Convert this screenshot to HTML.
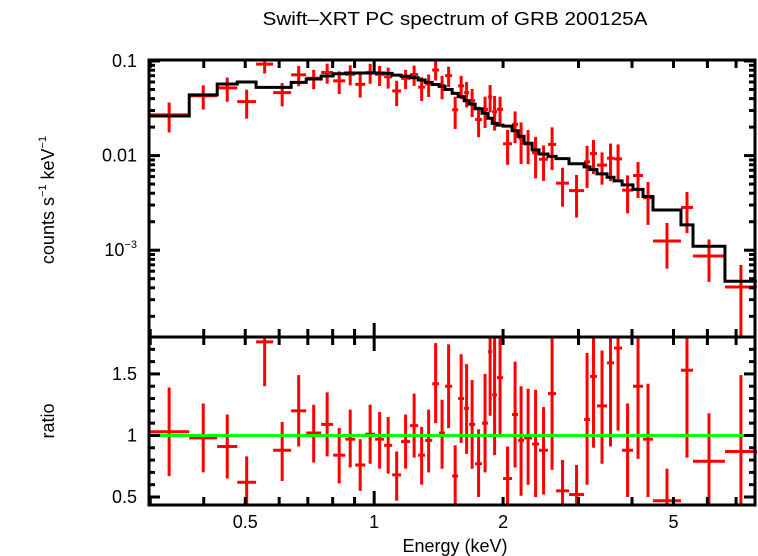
<!DOCTYPE html>
<html><head><meta charset="utf-8"><style>
body{margin:0;background:#fff;width:758px;height:556px;overflow:hidden}
svg{display:block;font-family:"Liberation Sans",sans-serif}
</style></head><body>
<svg id="chart" width="758" height="556" xmlns="http://www.w3.org/2000/svg">
<text x="455" y="25" font-size="18" text-anchor="middle" textLength="385" lengthAdjust="spacingAndGlyphs">Swift–XRT PC spectrum of GRB 200125A</text>
<text transform="translate(54,200) rotate(-90)" font-size="18" text-anchor="middle">counts s<tspan font-size="11" dy="-8">−1</tspan><tspan dy="8"> keV</tspan><tspan font-size="11" dy="-8">−1</tspan></text>
<text transform="translate(54,421) rotate(-90)" font-size="18" text-anchor="middle">ratio</text>
<text x="455" y="552" font-size="18" text-anchor="middle">Energy (keV)</text>
<g id="g"></g>
</svg>
<script>
const edges=[0.298,0.370,0.430,0.479,0.530,0.581,0.640,0.694,0.752,0.802,0.856,0.903,0.953,1.005,1.055,1.102,1.156,1.213,1.267,1.315,1.366,1.418,1.464,1.521,1.571,1.622,1.666,1.721,1.786,1.845,1.886,1.936,2.0,2.099,2.168,2.239,2.338,2.427,2.547,2.66,2.851,3.092,3.192,3.314,3.498,3.631,3.793,4.022,4.245,4.478,5.205,5.553,6.594,7.83];
const model=[0.0262,0.0438,0.0571,0.060,0.0527,0.0527,0.0595,0.0645,0.0694,0.0734,0.0746,0.0746,0.0746,0.0746,0.074,0.071,0.069,0.0666,0.063,0.0595,0.0565,0.054,0.050,0.0455,0.042,0.038,0.035,0.0313,0.028,0.0248,0.0219,0.021,0.0205,0.0183,0.016,0.0135,0.0115,0.0104,0.0098,0.0093,0.0082,0.0076,0.0071,0.0064,0.0059,0.0054,0.0049,0.0044,0.0037,0.00266,0.00185,0.0011,0.00047];
const ratio=[1.03,0.98,0.91,0.62,1.76,0.88,1.20,1.02,1.09,0.84,0.97,0.76,1.01,0.97,0.92,0.68,0.95,1.08,0.84,0.96,1.42,1.02,1.40,0.67,1.30,1.22,1.09,0.77,1.10,1.68,1.33,1.47,0.65,1.17,0.96,0.98,0.93,0.88,1.34,0.55,0.52,1.13,1.48,1.24,1.59,1.71,0.88,1.40,0.97,0.47,1.53,0.79,0.87];
const ratioHi=[1.39,1.26,1.17,0.83,2.2,1.11,1.49,1.25,1.35,1.06,1.21,0.97,1.25,1.19,1.15,0.87,1.17,1.34,1.07,1.21,1.75,1.29,1.74,0.92,1.66,1.58,1.45,1.05,1.50,2.25,1.95,2.0,0.91,1.60,1.40,1.38,1.37,1.23,2.03,0.80,0.76,1.67,2.06,1.69,2.27,2.43,1.26,1.94,1.42,0.73,2.23,1.18,1.49];
const ratioLo=[0.67,0.70,0.65,0.41,1.40,0.63,0.91,0.78,0.83,0.61,0.74,0.55,0.77,0.73,0.69,0.47,0.73,0.82,0.60,0.70,1.10,0.73,1.06,0.42,0.94,0.85,0.73,0.50,0.70,1.16,0.84,1.0,0.39,0.74,0.51,0.60,0.50,0.52,0.72,0.31,0.27,0.60,0.90,0.77,0.91,1.04,0.50,0.81,0.50,0.24,0.82,0.42,0.1];
const xTicks=[0.5,1,2,5];
const xTickLabels=["0.5","1","2","5"];
const ratioTicks=[0.5,1,1.5];
const ratioTickLabels=["0.5","1","1.5"];

const NS="http://www.w3.org/2000/svg";
const G=document.getElementById('g');
const L=149,R=755,T=60,M=337,B=505;
const lx0=Math.log10(0.298),lx1=Math.log10(7.75);
const X=e=>L+(Math.log10(e)-lx0)/(lx1-lx0)*(R-L);
const Yt=v=>{let y=61+(-1-Math.log10(v))*94.6;return Math.max(T,Math.min(M,y));};
const rMin=0.435,rMax=1.8;
const Yr=v=>{let y=B-(v-rMin)/(rMax-rMin)*(B-M);return Math.max(M,Math.min(B,y));};
function ln(x1,y1,x2,y2,c,w){const e=document.createElementNS(NS,'line');e.setAttribute('x1',x1);e.setAttribute('y1',y1);e.setAttribute('x2',x2);e.setAttribute('y2',y2);e.setAttribute('stroke',c);e.setAttribute('stroke-width',w);G.appendChild(e);return e;}
function tx(x,y,s,anchor){const e=document.createElementNS(NS,'text');e.setAttribute('x',x);e.setAttribute('y',y);e.setAttribute('font-size','18');e.setAttribute('text-anchor',anchor);e.textContent=s;G.appendChild(e);return e;}

for(let i=0;i<ratio.length;i++){
  const x0=X(edges[i]),x1=X(edges[i+1]),xc=X(Math.sqrt(edges[i]*edges[i+1]));
  const f=ratio[i]*model[i];
  let h=ln(x0,Yt(f),x1,Yt(f),'#ff0000',3);
  
  
  let v=ln(xc,Yt(ratioHi[i]*model[i]),xc,Yt(ratioLo[i]*model[i]),'#ff0000',3);
  
  
  let h2=ln(x0,Yr(ratio[i]),x1,Yr(ratio[i]),'#ff0000',3);
  
  
  let v2=ln(xc,Yr(ratioHi[i]),xc,Yr(ratioLo[i]),'#ff0000',3);
  
  
}
let d='';
for(let i=0;i<model.length;i++){
  const x0=X(edges[i]),x1=X(edges[i+1]),y=Yt(model[i]);
  d+=(i===0?'M':'L')+x0+','+y+'L'+x1+','+y;
}
const mp=document.createElementNS(NS,'path');
mp.setAttribute('d',d);mp.setAttribute('fill','none');mp.setAttribute('stroke','#000');mp.setAttribute('stroke-width','3');


G.appendChild(mp);
const gl=ln(L,Yr(1),R,Yr(1),'#00ff00',3);



[[T,M],[M,B]].forEach(([a,b],k)=>{
  const r=document.createElementNS(NS,'rect');
  r.setAttribute('x',L);r.setAttribute('y',a);r.setAttribute('width',R-L);r.setAttribute('height',b-a);
  r.setAttribute('fill','none');r.setAttribute('stroke','#000');r.setAttribute('stroke-width','3');
  
  
  G.appendChild(r);
});
for(let e=0.3;e<=7.01;e+=(e<0.95?0.1:1)){
  const ee=Math.round(e*10)/10, x=X(ee), len=(ee===1)?14:8;
  [T,M].forEach(y=>ln(x,y,x,y+len,'#000',3));
  [M,B].forEach(y=>ln(x,y,x,y-len,'#000',3));
}
xTicks.forEach((e,i)=>{
  const t=tx(X(e),528,xTickLabels[i],'middle');
  
  
});
for(let dec=-4;dec<=-1;dec++){
  for(let m=1;m<=9;m++){
    const v=m*Math.pow(10,dec);
    const y=61+(-1-Math.log10(v))*94.6;
    if(y<T-1||y>M)continue;
    const len=m===1?11:6;
    ln(L,y,L+len,y,'#000',3);ln(R,y,R-len,y,'#000',3);
  }
}
[['0.1',0.1],['0.01',0.01]].forEach(([s,v])=>{
  const t=tx(137,Yt(v)+6,s,'end');
  
  
});
const t3=tx(137,Yt(0.001)+6,'','end');
t3.innerHTML='10<tspan font-size="11" dy="-8">−3</tspan>';


for(let k=5;k<=17;k++){
  const v=k/10,y=Yr(v),len=(k%5===0)?11:6;
  ln(L,y,L+len,y,'#000',3);ln(R,y,R-len,y,'#000',3);
}
ratioTicks.forEach((v,i)=>{
  const t=tx(137,Yr(v)+6,ratioTickLabels[i],'end');
  
  
});
</script>
</body></html>
